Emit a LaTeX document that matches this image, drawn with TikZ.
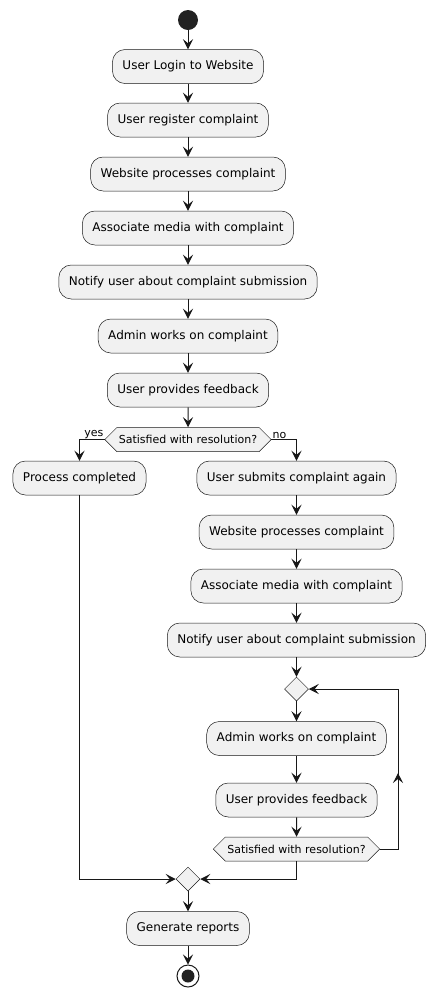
\documentclass[tikz,border=0pt]{standalone}
\usepackage{fontspec}
\setmainfont{DejaVu Sans}
\usetikzlibrary{arrows.meta,positioning,shapes.geometric,shapes.symbols,decorations.markings}
\definecolor{actfill}{HTML}{F1F1F1}
\definecolor{actline}{HTML}{181818}
\definecolor{dotfill}{HTML}{222222}

\begin{document}
\begin{tikzpicture}[x=1pt,y=-1pt,
  act/.style={draw=actline,line width=0.5pt,fill=actfill,rounded corners=12.5pt,minimum height=34pt,inner xsep=10pt,font=\fontsize{12}{14}\selectfont},
  ask/.style={signal,signal to=west and east,draw=actline,line width=0.5pt,fill=actfill,minimum height=24pt,inner xsep=2pt,inner ysep=0pt,font=\fontsize{11}{13}\selectfont},
  mergept/.style={diamond,draw=actline,line width=0.5pt,fill=actfill,minimum width=24pt,minimum height=24pt,inner sep=0pt},
  flow/.style={draw=actline,line width=1pt,-{Stealth[length=10pt,width=10pt,inset=4pt]}},
  lbl/.style={inner sep=1pt,font=\fontsize{11}{13}\selectfont}]
\useasboundingbox (0,0) rectangle (435,997);

% main column
\node[circle,fill=dotfill,minimum size=20pt,inner sep=0pt] (start) at (188,20) {};
\node[act] (login) at (188,66.5) {User Login to Website};
\node[act] (register) at (188,120) {User register complaint};
\node[act] (process1) at (188,174) {Website processes complaint};
\node[act] (media1) at (188,228) {Associate media with complaint};
\node[act] (notify1) at (188,282) {Notify user about complaint submission};
\node[act] (admin1) at (188,336) {Admin works on complaint};
\node[act] (feedback1) at (188,390) {User provides feedback};
\node[ask] (q1) at (188,439.5) {Satisfied with resolution?};

% yes branch
\node[act] (done) at (79.5,478) {Process completed};

% no branch
\node[act] (again) at (296.5,478) {User submits complaint again};
\node[act] (process2) at (296.5,532) {Website processes complaint};
\node[act] (media2) at (296.5,586) {Associate media with complaint};
\node[act] (notify2) at (296.5,640) {Notify user about complaint submission};
\node[mergept] (loop) at (296.5,689) {};
\node[act] (admin2) at (296.5,738.5) {Admin works on complaint};
\node[act] (feedback2) at (296.5,800) {User provides feedback};
\node[ask] (q2) at (296.5,849) {Satisfied with resolution?};
\coordinate (back) at (398,689);

% end
\node[mergept] (merge) at (188,879) {};
\node[act] (report) at (188,928.5) {Generate reports};
\node[circle,draw=actline,line width=1pt,fill=white,minimum size=22pt,inner sep=0pt] (stop) at (188,976) {};
\node[circle,fill=dotfill,minimum size=13pt,inner sep=0pt] at (stop) {};

\node[lbl,anchor=south east] (yes) at (q1.west) {yes};
\node[lbl,anchor=south west] (no) at (q1.east) {no};

\draw[flow] (start) -- (login);
\draw[flow] (login) -- (register);
\draw[flow] (register) -- (process1);
\draw[flow] (process1) -- (media1);
\draw[flow] (media1) -- (notify1);
\draw[flow] (notify1) -- (admin1);
\draw[flow] (admin1) -- (feedback1);
\draw[flow] (feedback1) -- (q1);
\draw[flow] (q1.west) -| (done.north);
\draw[flow] (q1.east) -| (again.north);
\draw[flow] (again) -- (process2);
\draw[flow] (process2) -- (media2);
\draw[flow] (media2) -- (notify2);
\draw[flow] (notify2) -- (loop);
\draw[flow] (loop) -- (admin2);
\draw[flow] (admin2) -- (feedback2);
\draw[flow] (feedback2) -- (q2);
\draw[flow,postaction={decorate},decoration={markings,mark=at position 94pt with {\arrow{Stealth[length=10pt,width=10pt,inset=4pt]}}}] (q2.east) -| (back) -- (loop.east);
\draw[flow] (q2.south) |- (merge.east);
\draw[flow] (done.south) |- (merge.west);
\draw[flow] (merge) -- (report);
\draw[flow] (report) -- (stop);
\end{tikzpicture}
\end{document}
